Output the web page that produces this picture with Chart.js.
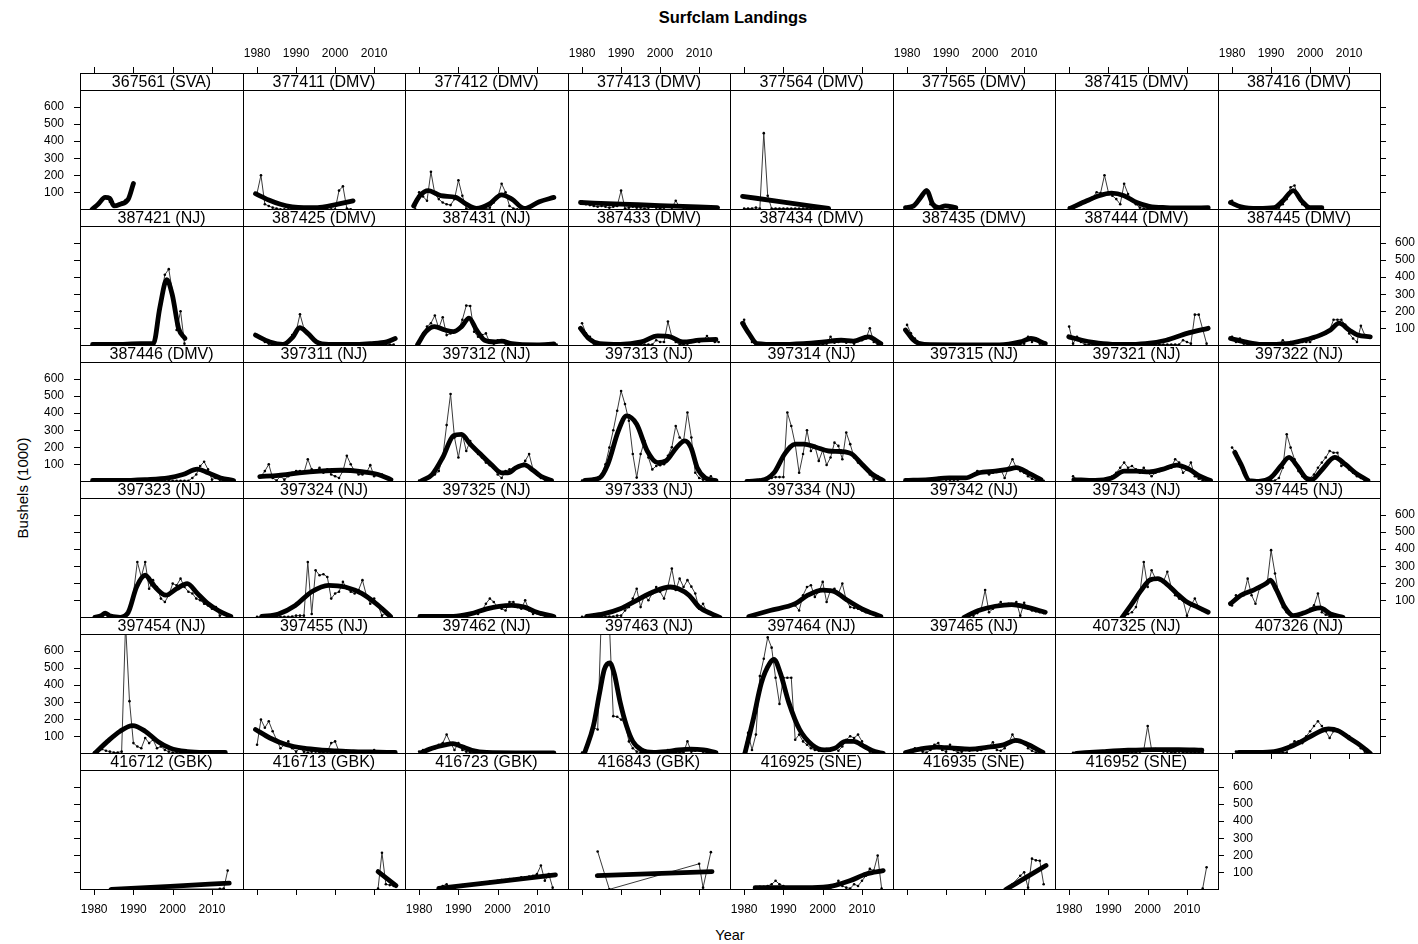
<!DOCTYPE html>
<html>
<head>
<meta charset="utf-8">
<title>Surfclam Landings</title>
<script src="https://cdn.jsdelivr.net/npm/chart.js@4.4.1/dist/chart.umd.min.js"></script>
<style>
  body { margin: 0; background: #fff; font-family: "Liberation Sans", Arial, sans-serif; }
  #page { position: relative; width: 1418px; height: 944px; overflow: hidden; background: #fff; }
  #page canvas { position: absolute; }
  .lbl { position: absolute; color: #000; white-space: nowrap; }
</style>
</head>
<body>
<div id="page">
  <div class="lbl" style="left:0;width:1466px;top:8px;text-align:center;font-weight:bold;font-size:16.5px;">Surfclam Landings</div>
  <div class="lbl" style="left:0;width:1460px;top:927px;text-align:center;font-size:14.5px;">Year</div>
  <div class="lbl" style="left:22px;top:488px;font-size:15px;transform:translate(-50%,-50%) rotate(-90deg);">Bushels (1000)</div>
</div>
<script>
// panel labels, left to right and top to bottom
var stations = [
  "367561 (SVA)", "377411 (DMV)", "377412 (DMV)", "377413 (DMV)", "377564 (DMV)", "377565 (DMV)", "387415 (DMV)", "387416 (DMV)",
  "387421 (NJ)", "387425 (DMV)", "387431 (NJ)", "387433 (DMV)", "387434 (DMV)", "387435 (DMV)", "387444 (DMV)", "387445 (DMV)",
  "387446 (DMV)", "397311 (NJ)", "397312 (NJ)", "397313 (NJ)", "397314 (NJ)", "397315 (NJ)", "397321 (NJ)", "397322 (NJ)",
  "397323 (NJ)", "397324 (NJ)", "397325 (NJ)", "397333 (NJ)", "397334 (NJ)", "397342 (NJ)", "397343 (NJ)", "397445 (NJ)",
  "397454 (NJ)", "397455 (NJ)", "397462 (NJ)", "397463 (NJ)", "397464 (NJ)", "397465 (NJ)", "407325 (NJ)", "407326 (NJ)",
  "416712 (GBK)", "416713 (GBK)", "416723 (GBK)", "416843 (GBK)", "416925 (SNE)", "416935 (SNE)", "416952 (SNE)"
];

// first year of the yearly landings of each panel
var firstYear = [
  1980, 1980, 1979, 1980, 1980, 1980, 1980, 1980,
  1980, 1980, 1980, 1980, 1980, 1980, 1980, 1980,
  1980, 1981, 1980, 1980, 1981, 1980, 1981, 1980,
  1980, 1980, 1980, 1980, 1981, 1997, 1994, 1980,
  1980, 1980, 1980, 1980, 1980, 1980, 1981, 1981,
  1984, 2011, 1985, 1984, 1983, 2005, 2014
];

// yearly landings, bushels (1000); null = no landings that year
var landings = [
  [5,30,60,70,45,20,25,40,55,80,150],
  [95,200,30,20,10,5,0,0,0,0,0,0,0,0,0,0,0,0,0,0,0,110,135,5,0],
  [0,100,75,50,220,90,60,40,30,25,60,170,80,5,0,0,0,0,0,10,40,70,150,100,20,5,0],
  [45,30,25,20,15,20,15,10,15,20,110,5,10,15,10,10,5,10,15,10,5,10,15,10,50,15,10,5,10,5,10,5,10,5,10,10],
  [5,5,5,10,5,447,80,5,5,5,5,5,5,5,5,5,5,5,5,5,5,5],
  [10,20,25,60,90,115,30,10,10,20,20,10,10],
  [10,10,20,30,40,55,70,100,95,200,100,80,60,30,150,90,50,30,10,5,5,5,5,5,3,3,3,3,3,3,3,3,3,3,3,3],
  [50,25,10,5,0,0,0,0,0,0,0,0,10,30,60,130,140,70,30,10,5,5,5,5],

  [5,5,5,5,5,5,5,5,5,5,5,5,5,5,5,5,null,null,414,447,305,90,200,10],
  [60,40,20,10,5,0,0,5,20,60,80,182,100,70,50,20,5,5,5,5,5,5,5,5,5,5,5,5,5,5,5,5,5,5,5,5],
  [10,70,110,130,175,100,165,60,70,80,90,150,233,231,80,50,60,70,15,10,30,20,10,5,5,5,5,5,5,5,5,5,5,5,5,5],
  [130,70,50,10,5,5,5,5,5,5,5,5,5,5,5,5,5,5,5,30,20,20,140,50,20,5,5,10,20,25,20,30,55,30,20,20],
  [150,70,20,3,3,3,3,3,3,3,3,3,3,3,3,3,3,3,3,3,3,10,50,15,20,30,15,20,10,25,30,40,100,20,5,5],
  [120,70,40,5,5,5,5,5,5,5,5,5,5,5,5,5,5,5,5,5,5,5,5,5,5,5,5,5,5,5,10,50,20,40,10,5],
  [110,10,50,20,5,5,5,5,5,5,5,5,5,5,5,5,5,5,5,5,5,5,5,5,5,5,5,5,5,30,20,10,180,180,95,10],
  [50,20,40,10,5,5,5,5,5,5,5,5,5,30,10,20,20,20,20,20,20,40,50,60,70,90,150,150,150,120,70,40,20,115,60,50],

  [3,3,3,3,3,3,3,3,3,3,3,3,3,3,3,3,3,3,3,3,3,3,3,3,3,20,40,90,115,70,10,20,10,5,5,3],
  [30,60,100,20,5,30,10,30,50,60,60,50,130,70,60,80,50,70,40,30,20,60,150,100,60,40,40,50,95,30,40,40,20,10],
  [5,8,15,30,40,60,140,330,512,257,140,276,178,237,200,160,140,110,95,80,40,20,60,70,75,90,90,120,160,70,40,20,10,5],
  [5,5,10,15,20,40,100,198,300,414,530,453,355,160,22,160,237,140,70,90,95,100,150,200,325,257,237,404,257,50,20,10,10,30,5],
  [0,5,5,10,10,20,20,25,25,25,404,325,218,50,160,300,178,208,120,182,96,140,227,208,130,286,218,140,110,90,80,40,10,30,5],
  [5,5,5,5,5,5,10,15,20,15,10,10,10,10,15,20,30,40,60,55,50,40,50,55,70,20,80,130,80,60,50,30,15,5,5,3],
  [30,5,5,5,5,5,5,5,5,10,30,50,80,110,80,90,70,50,80,50,30,50,60,70,75,80,130,110,50,70,110,30,15,5,3],
  [198,170,100,50,20,5,5,5,5,5,5,5,20,80,276,198,130,60,30,20,20,40,80,110,140,178,168,168,90,100,70,50,30,20,5],

  [3,5,15,20,10,5,3,5,10,40,140,325,237,325,168,218,178,110,90,130,198,188,227,178,150,140,110,100,80,70,50,60,10,20],
  [3,3,3,3,3,3,3,3,3,5,10,10,10,325,20,276,247,253,237,110,140,150,208,170,150,140,160,218,130,80,110,70,10,25],
  [3,3,3,3,3,3,3,3,3,3,3,3,3,20,25,20,40,80,110,90,60,50,40,90,90,60,50,100,40,20,25,15,10,5,3],
  [3,3,5,3,5,5,3,5,5,10,10,40,60,110,168,60,130,100,140,178,150,110,182,286,160,227,178,218,180,140,50,80,30,20,10],
  [5,null,null,null,null,null,null,null,null,null,null,null,70,40,130,178,188,120,150,208,90,160,168,140,198,100,60,55,50,40,30,25,20,5],
  [10,25,50,160,30,50,70,90,70,80,75,90,10,85,50,40,35,30,25],
  [5,20,30,60,140,325,178,276,227,218,210,267,178,130,110,100,10,70,110,60,40,30],
  [70,130,120,130,227,130,80,168,188,200,394,257,130,60,30,20,10,15,20,30,50,70,140,30,15,5,3,3,3],

  [5,20,25,15,10,5,5,10,760,306,60,40,30,90,60,80,30,40,20,10,5,3,3,3,3,3,3,3,3,10,3,3,3,3],
  [50,198,150,188,130,80,30,50,70,30,10,30,10,5,10,10,5,5,10,60,70,10,5,5,5,5,5,5,5,5,20,3,3,3,3,3],
  [10,20,25,30,30,50,60,110,60,20,60,20,10,5,3,3,3,3,3,3,3,3,3,3,3,3,3,3,3,3,3,3,3,3,3],
  [5,20,80,150,140,850,900,760,218,215,198,178,70,30,10,5,5,5,5,5,10,10,20,5,5,5,5,70,10,15,20,10,5,3],
  [5,120,20,110,453,555,680,620,443,290,443,443,443,80,110,70,50,30,20,15,20,25,20,30,15,40,80,100,90,110,70,30,10],
  [10,20,30,20,10,5,20,50,60,20,10,50,20,5,10,20,15,30,15,20,30,40,65,20,15,30,60,110,70,70,65,30,15,5,3],
  [3,5,3,3,5,3,5,5,3,3,5,5,3,5,5,3,5,10,20,160,20,25,15,10,10,5,5,10,5,5,5,5,3,3],
  [10,5,5,3,3,3,3,5,5,3,3,5,5,5,50,70,70,60,100,130,160,188,160,130,90,130,140,120,110,100,80,60,30,10,3],

  [0,null,null,null,null,null,null,null,null,null,null,null,null,null,null,null,null,null,null,null,null,null,null,null,null,null,null,null,3,5,110],
  [5,215,30,25,20],
  [10,20,30,10,15,20,25,25,30,30,35,40,40,45,45,50,55,55,60,60,65,70,70,75,80,90,140,50,90,10],
  [222,null,null,0,null,null,null,null,null,null,null,null,null,null,null,null,null,null,null,null,null,null,null,null,null,null,150,10,null,218],
  [10,15,15,20,30,50,30,20,10,5,5,5,5,5,8,8,10,10,10,10,20,50,20,10,5,30,20,50,80,120,110,198,5],
  [0,null,30,null,80,100,10,180,170,168,30],
  [5,130]
];

var smoothYears = [
  [1979.5,1981,1982.8,1984,1985,1986.6,1988.7,1990],
  [1979.6,1983,1986,1989,1992,1995,1998,2001,2004.6],
  [1978.6,1980.2,1982.3,1985.5,1989.3,1992,1994.6,1997.8,2001,2003.6,2006.8,2010.6,2014.3],
  [1979.6,1990,2000,2014.6],
  [1979.6,1990,2001.5],
  [1979.6,1981.7,1983.5,1985,1986.6,1988.2,1989.8,1992.5],
  [1980.2,1984.5,1987.6,1990.8,1994,1997.2,2000.4,2004.7,2010,2015.4],
  [1979.6,1982.3,1986.6,1990.8,1993,1995.7,1997.8,2000,2003],

  [1979.6,1985,1991.9,1995.1,1996.7,1998.5,1999.9,2001.5,2003.1],
  [1979.6,1983.3,1986.6,1989.2,1990.9,1993,1995.2,1998.4,2003.7,2009,2013.2,2015.4],
  [1979.6,1981.7,1983.9,1986.6,1988.7,1990.8,1992.7,1994.6,1996.7,1999.4,2001,2003.6,2010,2014.3],
  [1979.6,1981.7,1984.5,1989.8,1995.2,1999.4,2002.6,2005.8,2010,2014.3],
  [1979.6,1981.2,1983.3,1988.7,1995.1,2000.4,2004.7,2007.8,2011.6,2014.8],
  [1979.6,1981.7,1984.4,1993,2003.6,2009,2011.7,2015.4],
  [1979.9,1983.3,1988.6,1994,1999.4,2004.7,2010,2015.4],
  [1979.6,1983.3,1987.6,1994,1998.3,2002.6,2005.2,2007.4,2010,2012.2,2015.4],

  [1979.6,1986.6,1993,1998.9,2002.6,2006.3,2009,2012.2,2015.5],
  [1980.7,1985.5,1990.8,1996.1,2001.5,2006.8,2011,2014.3],
  [1980.7,1983.3,1986,1988.7,1990.8,1993,1995.6,1998.3,2001,2002.6,2004.7,2006.8,2009,2011,2013.7],
  [1980.7,1984.5,1986.6,1989.3,1991.4,1994,1996.7,1999.4,2001.5,2004.2,2006.3,2007.9,2009.5,2011.6,2014.3],
  [1980.7,1984.4,1987.6,1990.3,1993,1995.2,1998.3,2001.5,2004.7,2007.4,2010,2012.7,2015.4],
  [1979.6,1985.5,1990.8,1995,1998.3,2002.6,2005.8,2008,2011,2014.3],
  [1981.2,1986.6,1990.8,1994,1997.2,2000.4,2003.7,2007.4,2010.6,2013.3,2016],
  [1980.7,1982.3,1984.4,1986.6,1989.8,1992.5,1994.6,1996.7,1998.9,2000.4,2003.1,2006.3,2009,2011.6,2014.8],

  [1980.2,1981.8,1982.8,1983.9,1986.6,1988.7,1990.8,1993,1995.1,1998.3,2001,2003.7,2006.3,2009,2011.6,2014.8],
  [1981.2,1985.5,1989.8,1994,1998.3,2002.6,2006.8,2010.5,2014.2],
  [1980.2,1988.7,1993,1997.2,2000.4,2003.6,2006.8,2010,2014.3],
  [1981.2,1985.5,1989.8,1994,1998.3,2002.6,2004.7,2007.4,2010,2013.2,2015.3],
  [1981.2,1986.6,1993,1996.2,2000,2003.1,2006.3,2010,2014.8],
  [1994.6,1998.3,2002.6,2006.8,2010.6,2015.4],
  [1993.5,1995.7,1998.4,2000.5,2002.6,2004.7,2007.4,2010,2012.7,2015.4],
  [1979.6,1982.3,1985.5,1988.7,1989.8,1991.4,1993.5,1995.7,1998.3,2001,2002.6,2005.2,2008.4],

  [1980.2,1983.4,1986.6,1989.8,1993,1996.2,1999.4,2003.7,2008,2013.4],
  [1979.6,1983.3,1987.6,1991.9,1996.1,2000.4,2004.7,2009,2015.4],
  [1980.7,1983.3,1986.6,1988.6,1990.8,1993.4,1997.2,2004.7,2014.3],
  [1980.7,1982.9,1984.5,1985.7,1987.1,1988.2,1989.8,1991.4,1993,1995.2,1998.4,2001.5,2004.7,2007.9,2011.1,2014.3],
  [1980.2,1982.3,1984.4,1986.6,1987.6,1989.2,1991.4,1994.1,1997.3,2000.4,2003.1,2005.8,2007.9,2010.6,2013.3,2015.4],
  [1979.6,1983.3,1987.6,1991.9,1996.1,2000.4,2004.7,2007.9,2011.1,2014.8],
  [1981.8,1988.6,1995,2001.5,2007.9,2013.8],
  [1981.7,1986.6,1990.8,1995.1,1999.4,2002.6,2004.7,2007.4,2010,2012.7,2015.4],

  [1984.4,1999.4,2014.4],
  [2011,2013.3,2015.6],
  [1985,2000,2014.7],
  [1983.9,1998.6,2013.3],
  [1982.8,1990,1997.3,2002.6,2006.9,2011.1,2015.4],
  [2005.4,2010.5,2015.6],
  []
];

var smoothBushels = [
  [0,30,70,65,20,30,60,152],
  [92,55,30,15,10,10,18,32,50],
  [20,80,110,80,70,30,5,30,85,60,5,45,70],
  [40,31,22,10],
  [76,43,5],
  [10,20,70,110,30,10,20,10],
  [5,50,80,95,80,40,18,10,8,10],
  [40,15,5,10,50,110,50,10,10],

  [5,5,10,10,218,385,296,100,41],
  [60,20,5,50,104,70,20,5,5,10,20,40],
  [5,80,110,90,80,110,160,90,30,20,25,10,3,8],
  [100,40,10,5,20,55,50,20,30,35],
  [130,70,10,5,10,20,30,25,50,10],
  [90,30,5,3,3,20,40,10],
  [50,30,10,5,10,30,70,100],
  [40,20,5,10,30,60,90,130,90,60,50],

  [5,5,10,20,40,72,50,20,5],
  [28,35,50,60,65,57,40,10],
  [5,40,140,267,276,218,160,100,50,50,80,96,65,30,5],
  [5,20,100,296,384,335,178,110,120,198,237,198,80,20,5],
  [0,5,50,160,218,218,200,178,175,160,100,40,5],
  [5,10,20,20,50,60,70,80,50,10],
  [10,5,20,60,60,55,70,95,70,30,5],
  [170,100,5,0,20,90,140,90,20,10,70,140,100,50,5],

  [0,10,25,10,0,30,178,247,188,130,168,198,140,80,40,5],
  [5,20,70,150,188,178,140,80,5],
  [5,5,20,50,65,70,60,30,5],
  [5,20,50,100,150,178,168,130,60,20,0],
  [5,40,80,130,160,150,100,50,5],
  [0,40,65,75,60,30],
  [0,70,160,218,227,198,140,90,60,30],
  [80,130,160,198,218,160,60,10,25,50,55,20,0],

  [0,70,130,163,130,70,30,10,5,5],
  [140,90,50,30,20,15,10,8,5],
  [5,30,50,57,40,18,5,3,3],
  [5,160,355,492,530,472,296,160,70,20,5,10,20,25,20,5],
  [0,198,414,531,551,472,296,140,50,20,30,70,70,40,10,0],
  [5,25,37,30,25,35,50,76,50,5],
  [0,10,18,22,22,18],
  [5,5,10,40,90,130,143,130,90,50,0],

  [0,18,37],
  [104,63,22],
  [5,45,85],
  [80,92,104],
  [10,10,10,20,50,90,110],
  [0,70,140],
  []
];

var yearTicks = [1980, 1990, 2000, 2010];
var bushelTicks = [100, 200, 300, 400, 500, 600];

// layout of the lattice
var nCols = 8, colLeft = 80, colWidth = 162.5;
var rowTop = 73, rowHeight = 136, stripHeight = 17;
var margin = 50;
var tickFont = '12px "Liberation Sans", Arial, sans-serif';
var stripFont = '16px "Liberation Sans", Arial, sans-serif';

var panelFrame = {
  id: 'panelFrame',
  afterDraw: function(chart) {
    var p = chart.options.plugins.panelFrame;
    var ctx = chart.ctx, a = chart.chartArea;
    var xs = chart.scales.x, ys = chart.scales.y;
    var w = a.right - a.left;
    var stripTop = a.top - stripHeight;
    ctx.save();
    ctx.strokeStyle = '#000';
    ctx.lineWidth = 1;
    ctx.fillStyle = '#fff';
    ctx.fillRect(a.left, stripTop, w, stripHeight);
    ctx.strokeRect(a.left + 0.5, stripTop + 0.5, w, stripHeight);
    ctx.strokeRect(a.left + 0.5, a.top + 0.5, w, a.bottom - a.top);

    ctx.fillStyle = '#000';
    ctx.font = stripFont;
    ctx.textAlign = 'center';
    ctx.textBaseline = 'middle';
    ctx.fillText(p.label, (a.left + a.right) / 2, stripTop + stripHeight / 2 + 1);

    ctx.font = tickFont;
    ctx.beginPath();
    yearTicks.forEach(function(v) {
      var x = Math.round(xs.getPixelForValue(v)) + 0.5;
      if (p.top) { ctx.moveTo(x, stripTop); ctx.lineTo(x, stripTop - 6); }
      if (p.bottom) { ctx.moveTo(x, a.bottom); ctx.lineTo(x, a.bottom + 6); }
    });
    bushelTicks.forEach(function(v) {
      var y = Math.round(ys.getPixelForValue(v)) + 0.5;
      if (p.left) { ctx.moveTo(a.left, y); ctx.lineTo(a.left - 6, y); }
      if (p.right) { ctx.moveTo(a.right, y); ctx.lineTo(a.right + 6, y); }
    });
    ctx.stroke();

    if (p.top && p.col % 2 == 1) {
      yearTicks.forEach(function(v) { ctx.fillText(v, xs.getPixelForValue(v), stripTop - 19); });
    }
    if (p.bottom && p.col % 2 == 0) {
      yearTicks.forEach(function(v) { ctx.fillText(v, xs.getPixelForValue(v), a.bottom + 21); });
    }
    if (p.left && p.row % 2 == 0) {
      ctx.textAlign = 'right';
      bushelTicks.forEach(function(v) { ctx.fillText(v, a.left - 16, ys.getPixelForValue(v)); });
    }
    if (p.right && p.row % 2 == 1) {
      ctx.textAlign = 'left';
      bushelTicks.forEach(function(v) { ctx.fillText(v, a.right + 15, ys.getPixelForValue(v)); });
    }
    ctx.restore();
  }
};

var page = document.getElementById('page');
var nPanels = stations.length;

stations.forEach(function(name, i) {
  var row = Math.floor(i / nCols), col = i % nCols;
  var left = Math.round(colLeft + col * colWidth);
  var right = Math.round(colLeft + (col + 1) * colWidth);
  var plotTop = rowTop + row * rowHeight + stripHeight;
  var plotBottom = rowTop + (row + 1) * rowHeight;

  var canvas = document.createElement('canvas');
  canvas.width = right - left + 2 * margin;
  canvas.height = plotBottom - plotTop + 2 * margin;
  canvas.style.left = (left - margin) + 'px';
  canvas.style.top = (plotTop - margin) + 'px';
  page.appendChild(canvas);

  var raw = [];
  landings[i].forEach(function(v, k) {
    if (v !== null) raw.push({x: firstYear[i] + k, y: v});
  });
  var smooth = smoothYears[i].map(function(yr, k) {
    return {x: yr, y: smoothBushels[i][k]};
  });

  new Chart(canvas, {
    type: 'line',
    data: {
      datasets: [
        {
          data: smooth,
          borderColor: '#000',
          borderWidth: 4.8,
          borderCapStyle: 'round',
          borderJoinStyle: 'round',
          cubicInterpolationMode: 'monotone',
          pointRadius: 0,
          clip: 0
        },
        {
          data: raw,
          borderColor: '#3a3a3a',
          borderWidth: 1,
          tension: 0,
          pointRadius: 1.3,
          pointBorderWidth: 0,
          pointBackgroundColor: '#000',
          spanGaps: true,
          clip: 0
        }
      ]
    },
    options: {
      responsive: false,
      animation: false,
      events: [],
      layout: { padding: margin },
      scales: {
        x: { type: 'linear', min: 1976.4, max: 2017.9, display: false },
        y: { type: 'linear', min: 2, max: 700, display: false }
      },
      plugins: {
        legend: { display: false },
        tooltip: { enabled: false },
        panelFrame: {
          label: name,
          row: row,
          col: col,
          top: row == 0,
          bottom: i + nCols >= nPanels,
          left: col == 0,
          right: col == nCols - 1 || i == nPanels - 1
        }
      }
    },
    plugins: [panelFrame]
  });
});
</script>
</body>
</html>
